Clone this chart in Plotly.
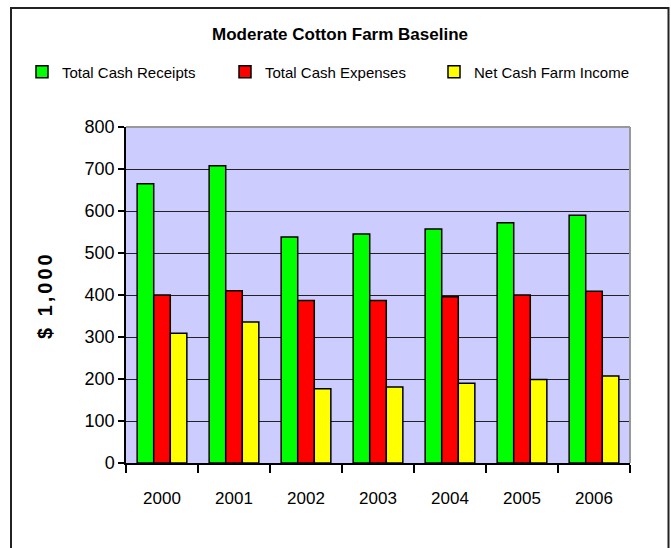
import plotly.graph_objects as go

years = ["2000", "2001", "2002", "2003", "2004", "2005", "2006"]
receipts = [665, 708, 538, 545, 557, 572, 590]
expenses = [400, 410, 387, 387, 396, 400, 409]
net_income = [309, 336, 177, 181, 190, 199, 207]
series_names = ["Total Cash Receipts", "Total Cash Expenses", "Net Cash Farm Income"]
colors = ["#00FF00", "#FF0000", "#FFFF00"]
y_ticks = [0, 100, 200, 300, 400, 500, 600, 700, 800]

FONT = "Liberation Sans, Arial, sans-serif"

W, H = 671, 548
L, R, T, B = 126, 41, 127, 85
pw, ph = W - L - R, H - T - B

def px_x(p):
    return (p - L) / pw

def px_y(p):
    return (H - B - p) / ph

legend_ids = ["legend", "legend2", "legend3"]
legend_text_x = [62, 265, 474]

fig = go.Figure()
for name, vals, col, lg in zip(series_names, [receipts, expenses, net_income], colors, legend_ids):
    fig.add_trace(go.Bar(
        x=years, y=vals, name=name, legend=lg,
        marker=dict(color=col, line=dict(color="black", width=1.5)),
    ))

legend_layout = {}
for lg, tx in zip(legend_ids, legend_text_x):
    legend_layout[lg] = dict(
        orientation="h",
        x=px_x(tx - 40), xanchor="left",
        y=px_y(72), yanchor="middle",
        font=dict(family=FONT, size=15, color="black"),
        itemwidth=30,
        bgcolor="rgba(0,0,0,0)",
    )

fig.update_layout(
    width=W, height=H,
    margin=dict(l=L, r=R, t=T, b=B),
    paper_bgcolor="white",
    plot_bgcolor="#CCCCFF",
    barmode="group",
    bargap=0.31,
    bargroupgap=0,
    showlegend=True,
    font=dict(family=FONT, size=18, color="black"),
    title=dict(
        text="<b>Moderate Cotton Farm Baseline</b>",
        x=340 / W, xref="container", xanchor="center",
        y=1 - 34 / H, yref="container", yanchor="middle",
        font=dict(family=FONT, size=17, color="black"),
    ),
    xaxis=dict(
        showline=True, linecolor="black", linewidth=1.5,
        ticks="outside", tickson="boundaries", ticklen=8, tickcolor="black", tickwidth=1.5,
        tickfont=dict(family=FONT, size=17),
        ticklabelstandoff=19,
        showgrid=False,
    ),
    yaxis=dict(
        range=[0, 800],
        tickvals=y_ticks,
        showline=True, linecolor="black", linewidth=1.5,
        ticks="outside", ticklen=6, tickcolor="black", tickwidth=1.5,
        tickfont=dict(family=FONT, size=18),
        showgrid=True, gridcolor="#222222", gridwidth=1,
        zeroline=False,
    ),
    annotations=[
        dict(
            text='<b><span style="letter-spacing:3px">$ 1,000</span></b>',
            xref="paper", yref="paper",
            x=px_x(45), y=0.5,
            xanchor="center", yanchor="middle",
            textangle=-90, showarrow=False,
            font=dict(family=FONT, size=20, color="black"),
        )
    ],
    shapes=[
        dict(type="line", xref="paper", yref="paper", x0=0, x1=1, y0=1, y1=1,
             line=dict(color="#999999", width=2), layer="above"),
        dict(type="line", xref="paper", yref="paper", x0=1, x1=1, y0=0, y1=1,
             line=dict(color="#999999", width=2), layer="above"),
        dict(type="rect", xref="paper", yref="paper",
             x0=px_x(11), x1=px_x(668.5), y0=px_y(8), y1=px_y(560),
             line=dict(color="#222222", width=2), layer="below"),
    ],
    **legend_layout,
)

fig.write_html("out.html")
